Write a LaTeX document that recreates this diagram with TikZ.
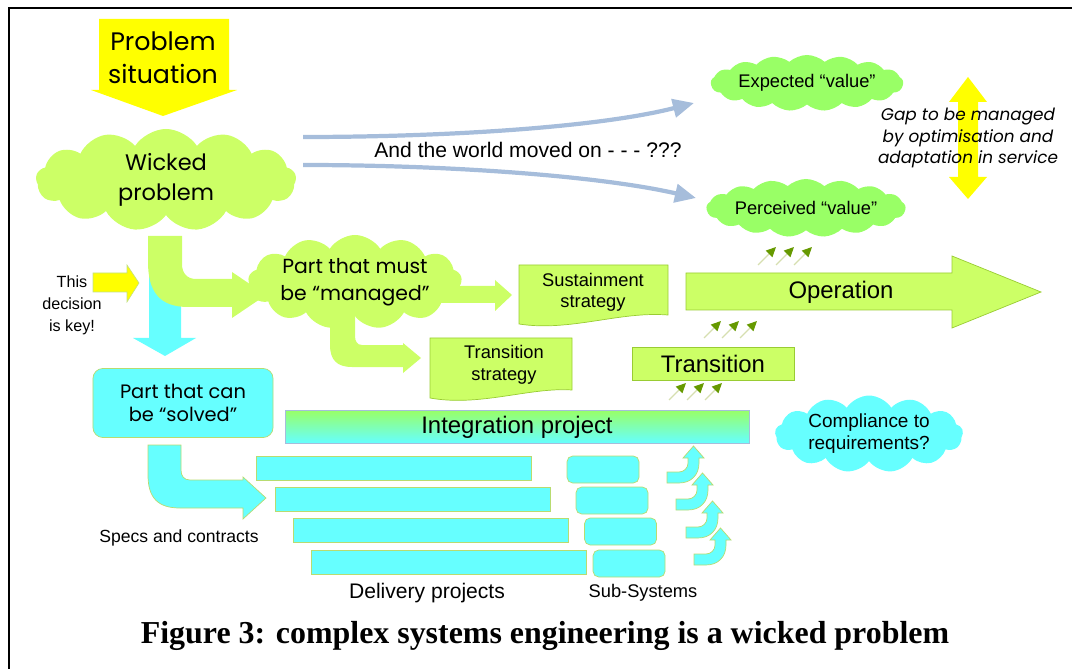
\documentclass[tikz,border=0pt]{standalone}
\usepackage{fontspec}
\setmainfont{Liberation Sans}
\newfontfamily\comicfont{Poppins}
\newfontfamily\captionfont{Liberation Serif}
\usetikzlibrary{arrows.meta,shapes.symbols,positioning,calc}

\definecolor{probyellow}{HTML}{FFFF00}
\definecolor{limegreen}{HTML}{CCFF66}
\definecolor{valuegreen}{HTML}{99FF66}
\definecolor{solvecyan}{HTML}{66FFFF}
\definecolor{edgegreen}{HTML}{99CC33}
\definecolor{worldblue}{HTML}{A6BDDB}
\definecolor{feedgreen}{HTML}{669900}
\definecolor{feedtail}{HTML}{D6DFB0}

\tikzset{
  idea/.style={cloud, cloud puffs=13, cloud puff arc=115, cloud ignores aspect,
    inner sep=0pt, align=center},
  flatidea/.style={idea, cloud puffs=17, cloud puff arc=85},
  block/.style={fill=limegreen, draw=edgegreen, line width=0.5pt},
  solved/.style={fill=solvecyan, draw=edgegreen!70, line width=0.5pt},
  drift/.style={draw=worldblue, line width=3pt, -{Triangle[length=15pt,width=13pt]}},
  feed/.style={draw=feedtail, line width=0.8pt, -{Triangle[length=7pt,width=6.5pt,color=feedgreen]}},
  liftarrow/.pic={
    \filldraw[solved] (0,0) -- (12,0) .. controls (24,0) and (32,-8) .. (32,-20)
      -- (32,-25) -- (37,-25) -- (26.5,-37) -- (16,-25) -- (21,-25) -- (21,-20)
      .. controls (21,-15) and (17,-11) .. (12,-11) -- (0,-11) -- cycle;
  }
}

\begin{document}
\begin{tikzpicture}[x=0.025cm, y=-0.025cm]
  \useasboundingbox (0,0) rectangle (1072,669);
  % frame
  \draw[line width=1.3pt] (9,669) -- (9,8) -- (1072,8);

  % problem situation
  \fill[probyellow] (99,19) -- (229,19) -- (229,90) -- (237,90) -- (163,116)
    -- (91,90) -- (99,90) -- cycle;
  \node[font=\comicfont\fontsize{18}{23.5}\selectfont, align=center] (situation)
    at (163,58) {Problem\\situation};

  % split into the two parts
  \fill[solvecyan] (149,270) -- (181,270) -- (181,338) -- (196,338) -- (165,356)
    -- (133,338) -- (149,338) -- cycle;
  \fill[limegreen] (148,236) -- (148,262) .. controls (148,292) and (160,307) .. (188,307)
    -- (232,307) -- (232,318) -- (266,295) -- (232,272) -- (232,279) -- (196,279)
    .. controls (187,279) and (182,273) .. (182,264) -- (182,236) -- cycle;
  \filldraw[fill=probyellow, draw=edgegreen!60, line width=0.4pt] (93,273) -- (127,273)
    -- (127,265) -- (139,283) -- (127,302) -- (127,292) -- (93,292) -- cycle;
  \node[font=\fontsize{11.5}{15.6}\selectfont, align=center] (decision)
    at (72,305) {This\\decision\\is key!};

  % managed branch
  \fill[limegreen] (433,286) -- (495,286) -- (495,280) -- (512,295) -- (495,311)
    -- (495,303) -- (433,303) -- cycle;
  \fill[limegreen] (330,315) -- (330,345) .. controls (330,360) and (337,367) .. (352,367)
    -- (403,367) -- (403,373) -- (421,358) -- (403,343) -- (403,345) -- (362,345)
    .. controls (357,345) and (355,341) .. (355,336) -- (355,315) -- cycle;

  % clouds
  \node[idea, fill=limegreen, minimum width=6.5cm, minimum height=2.55cm,
    font=\comicfont\fontsize{16}{21.3}\selectfont] (wicked) at (166,180) {Wicked\\problem};
  \node[idea, fill=limegreen, minimum width=4.5cm, minimum height=2.35cm,
    font=\comicfont\fontsize{14.5}{19}\selectfont] (managed) at (355,282) {Part that must\\be “managed”};
  \node[flatidea, fill=valuegreen, minimum width=4.6cm, minimum height=1.4cm,
    font=\fontsize{13}{16}\selectfont] (expected) at (807,83) {Expected “value”};
  \node[flatidea, fill=valuegreen, minimum width=4.6cm, minimum height=1.45cm,
    font=\fontsize{13}{16}\selectfont] (perceived) at (806,208) {Perceived “value”};
  \node[idea, fill=solvecyan, minimum width=4.7cm, minimum height=1.6cm,
    font=\fontsize{13.5}{15.6}\selectfont] (compliance) at (869,434) {Compliance to\\requirements?};

  % the world moves on
  \coordinate (wickedup) at (303,137);
  \coordinate (wickeddown) at (303,165);
  \coordinate (expectin) at (694,103);
  \coordinate (perceivein) at (696,198);
  \draw[drift] (wickedup) .. controls (450,137) and (600,127) .. (expectin);
  \draw[drift] (wickeddown) .. controls (450,165) and (600,176) .. (perceivein);
  \node[font=\fontsize{15}{18}\selectfont] (world) at (528,150) {And the world moved on - - - ???};

  % gap between values
  \fill[probyellow] (968,77) -- (987,102) -- (978,102) -- (978,177) -- (987,177)
    -- (968,199) -- (949,177) -- (958,177) -- (958,102) -- (949,102) -- cycle;
  \node[font=\comicfont\itshape\fontsize{12}{15}\selectfont, align=center] (gap)
    at (968,138) {Gap to be managed\\by optimisation and\\adaptation in service};

  % strategies
  \filldraw[block] (519,265) -- (668,265) -- (668,315) .. controls (620,311) and (570,332)
    .. (519,324) -- cycle;
  \node[font=\fontsize{13}{15}\selectfont, align=center] (sustain) at (593,292) {Sustainment\\strategy};
  \filldraw[block] (430,338) -- (572,338) -- (572,390) .. controls (530,387) and (480,407)
    .. (430,398) -- cycle;
  \node[font=\fontsize{13}{16}\selectfont, align=center] (transtrat) at (504,365) {Transition\\strategy};

  % operation and transition
  \filldraw[block] (686,273) -- (952,273) -- (952,256) -- (1041,292) -- (952,328)
    -- (952,310) -- (686,310) -- cycle;
  \node[font=\fontsize{17}{20}\selectfont] (operation) at (841,292) {Operation};
  \filldraw[block] (632,347) rectangle (794,380);
  \node[font=\fontsize{17}{20}\selectfont] (transition) at (713,364) {Transition};
  \foreach \dx in {0,18,36} {
    \draw[feed] (758+\dx,265) -- (776+\dx,247);
    \draw[feed] (704+\dx,338) -- (721+\dx,321);
    \draw[feed] (669+\dx,400) -- (686+\dx,383);
  }

  % solved branch
  \node[solved, rounded corners=7pt, minimum width=4.5cm, minimum height=1.725cm,
    align=center, font=\comicfont\fontsize{13.8}{16.8}\selectfont] (solved)
    at (183,403) {Part that can\\be “solved”};
  \filldraw[solved] (148,445) -- (148,475) .. controls (148,498) and (158,508) .. (180,508)
    -- (243,508) -- (243,519) -- (266,498) -- (243,477) -- (243,480) -- (190,480)
    .. controls (184,480) and (181,476) .. (181,470) -- (181,445) -- cycle;
  \node[font=\fontsize{12.5}{15}\selectfont] (specs) at (179,538) {Specs and contracts};

  % integration project
  \shade[top color=valuegreen, bottom color=solvecyan] (285,410) rectangle (749,443);
  \draw[worldblue, line width=0.5pt] (285,410) rectangle (749,443);
  \node[font=\fontsize{17}{20}\selectfont] (integration) at (517,427) {Integration project};

  % delivery projects and sub-systems
  \foreach \dx/\dy in {0/0,19/31,37/62,55/94} {
    \filldraw[solved] (256+\dx,456+\dy) rectangle (531+\dx,480+\dy);
    \filldraw[solved, rounded corners=4pt] (567+\dx/19*9,456+\dy) rectangle (639+\dx/19*9,483+\dy);
  }
  \pic at (667,483) {liftarrow};
  \pic at (676,510) {liftarrow};
  \pic at (686,538) {liftarrow};
  \pic at (694,565) {liftarrow};
  \node[font=\fontsize{15}{18}\selectfont] (delivery) at (427,593) {Delivery projects};
  \node[font=\fontsize{13}{16}\selectfont] (subsys) at (643,593) {Sub-Systems};

  % caption
  \node[anchor=base, font=\captionfont\bfseries\fontsize{22.7}{26}\selectfont] (caption)
    at (545,643) {Figure 3: complex systems engineering is a wicked problem};
\end{tikzpicture}
\end{document}
